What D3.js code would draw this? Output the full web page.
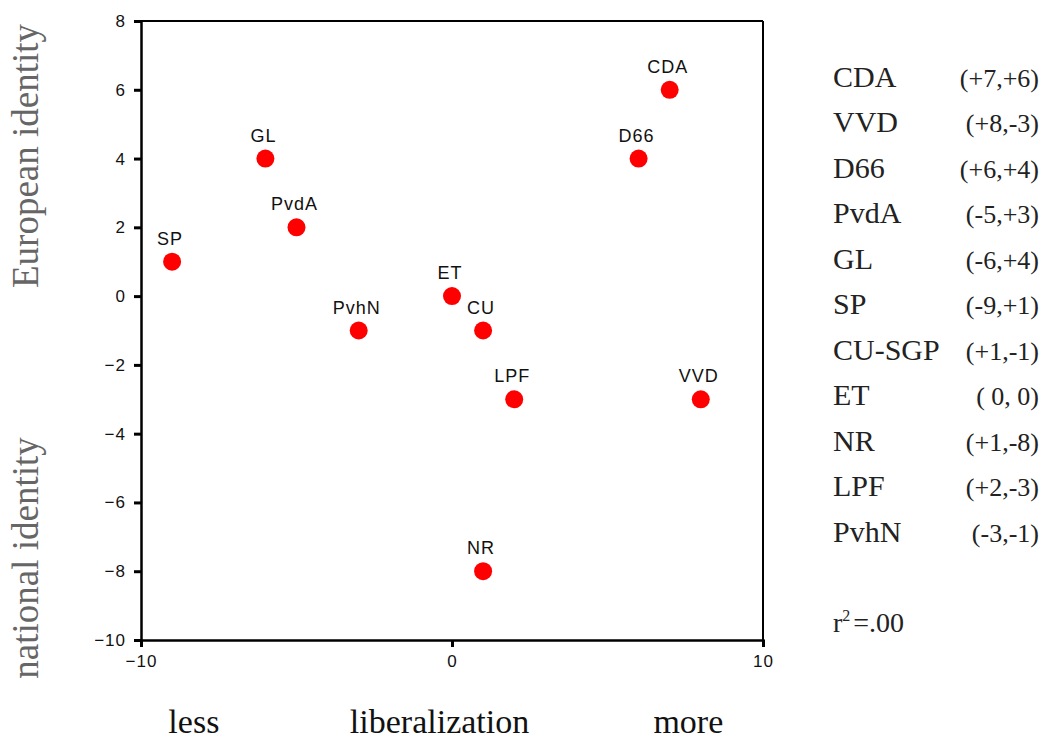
<!DOCTYPE html>
<html>
<head>
<meta charset="utf-8">
<script src="https://cdn.jsdelivr.net/npm/d3@7"></script>
<style>
  body { margin: 0; background: #fff; }
  svg { display: block; }
</style>
</head>
<body>
<svg id="chart" width="1050" height="740"></svg>
<script>
// Party positions (liberalization, European identity)
var parties = ["CDA", "VVD", "D66", "PvdA", "GL", "SP", "CU", "ET", "NR", "LPF", "PvhN"];
var liberalization = [7, 8, 6, -5, -6, -9, 1, 0, 1, 2, -3];
var identity = [6, -3, 4, 2, 4, 1, -1, 0, -8, -3, -1];

// Legend on the right
var legendNames = ["CDA", "VVD", "D66", "PvdA", "GL", "SP", "CU-SGP", "ET", "NR", "LPF", "PvhN"];
var legendCoords = ["(+7,+6)", "(+8,-3)", "(+6,+4)", "(-5,+3)", "(-6,+4)", "(-9,+1)",
                    "(+1,-1)", "( 0, 0)", "(+1,-8)", "(+2,-3)", "(-3,-1)"];
var rSquared = ".00";

// Ticks
var xTicks = [-10, 0, 10];
var yTicks = [8, 6, 4, 2, 0, -2, -4, -6, -8, -10];

var svg = d3.select("#chart");

var x = d3.scaleLinear().domain([-10, 10]).range([141, 763]);
var y = d3.scaleLinear().domain([-10, 8]).range([640, 21]);

var sans = "Liberation Sans, Arial, sans-serif";
var serif = "Liberation Serif, Times New Roman, serif";

// frame: top and right lines
svg.append("line")
    .attr("x1", x(-10)).attr("x2", x(10))
    .attr("y1", y(8)).attr("y2", y(8))
    .attr("stroke", "#000").attr("stroke-width", 2);
svg.append("line")
    .attr("x1", x(10)).attr("x2", x(10))
    .attr("y1", y(8)).attr("y2", y(-10))
    .attr("stroke", "#000").attr("stroke-width", 2);

// axes
var yAxis = d3.axisLeft(y).tickValues(yTicks).tickSize(7).tickPadding(8);
var xAxis = d3.axisBottom(x).tickValues(xTicks).tickSize(7).tickPadding(6);

var gy = svg.append("g")
    .attr("transform", "translate(" + x(-10) + ",0)")
    .call(yAxis);
var gx = svg.append("g")
    .attr("transform", "translate(0," + y(-10) + ")")
    .call(xAxis);

[gx, gy].forEach(function(g) {
  g.select(".domain").attr("stroke", "#000").attr("stroke-width", 2.5);
  g.selectAll(".tick line").attr("stroke", "#000").attr("stroke-width", 3);
  g.selectAll(".tick text")
      .attr("fill", "#111")
      .style("font-family", sans)
      .style("font-size", "17px")
      .style("letter-spacing", "1px");
});
gx.selectAll(".tick text").attr("dy", "0.85em");

// points
var idx = d3.range(parties.length);

svg.append("g").selectAll("circle")
    .data(idx)
  .enter().append("circle")
    .attr("cx", function(i) { return x(liberalization[i]); })
    .attr("cy", function(i) { return y(identity[i]); })
    .attr("r", 9)
    .attr("fill", "#ff0000");

svg.append("g").selectAll("text")
    .data(idx)
  .enter().append("text")
    .attr("x", function(i) { return x(liberalization[i]) - 2; })
    .attr("y", function(i) { return y(identity[i]) - 17; })
    .attr("text-anchor", "middle")
    .style("font-family", sans)
    .style("font-size", "18px")
    .style("letter-spacing", "1px")
    .attr("fill", "#111")
    .text(function(i) { return parties[i]; });

// y axis titles
svg.append("text")
    .attr("transform", "translate(38," + 156 + ") rotate(-90)")
    .attr("text-anchor", "middle")
    .style("font-family", serif)
    .style("font-size", "37px")
    .attr("fill", "#666")
    .text("European identity");
svg.append("text")
    .attr("transform", "translate(38," + 558 + ") rotate(-90)")
    .attr("text-anchor", "middle")
    .style("font-family", serif)
    .style("font-size", "37px")
    .attr("fill", "#666")
    .text("national identity");

// x axis words
var xWords = [
  { text: "less", pos: -8.3 },
  { text: "liberalization", pos: -0.4 },
  { text: "more", pos: 7.6 }
];
svg.append("g").selectAll("text")
    .data(xWords)
  .enter().append("text")
    .attr("x", function(d) { return x(d.pos); })
    .attr("y", 733)
    .attr("text-anchor", "middle")
    .style("font-family", serif)
    .style("font-size", "34px")
    .attr("fill", "#111")
    .text(function(d) { return d.text; });

// legend
var row = d3.scaleLinear().domain([0, legendNames.length - 1]).range([86.5, 541.5]);
var legend = svg.append("g")
    .style("font-family", serif)
    .attr("fill", "#222");

legend.selectAll("text.name")
    .data(legendNames)
  .enter().append("text")
    .attr("class", "name")
    .attr("x", 833)
    .attr("y", function(d, i) { return row(i); })
    .style("font-size", "30px")
    .text(function(d) { return d; });

legend.selectAll("text.coord")
    .data(legendCoords)
  .enter().append("text")
    .attr("class", "coord")
    .attr("x", 1039)
    .attr("y", function(d, i) { return row(i); })
    .attr("text-anchor", "end")
    .style("font-size", "26px")
    .text(function(d) { return d; });

var r2 = legend.append("text")
    .attr("x", 833)
    .attr("y", 632)
    .style("font-size", "28px");
r2.append("tspan").text("r");
r2.append("tspan").attr("dy", -11).style("font-size", "16px").text("2");
r2.append("tspan").attr("dy", 11).attr("dx", 3).text("=" + rSquared);
</script>
</body>
</html>
